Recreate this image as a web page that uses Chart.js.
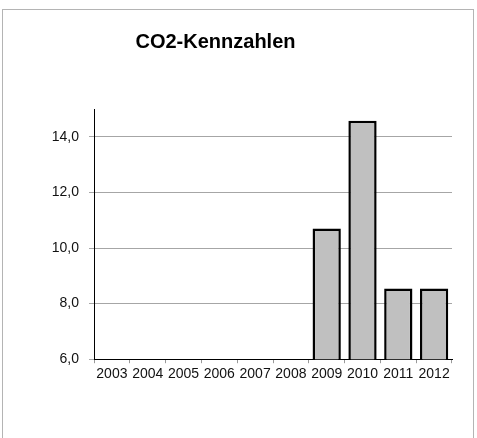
<!DOCTYPE html>
<html>
<head>
<meta charset="utf-8">
<script src="https://cdn.jsdelivr.net/npm/chart.js@4"></script>
<style>
    body { margin: 0; background: #fff; }
    #frame {
        position: absolute; left: 2px; top: 9px; width: 472px; height: 440px;
        border: 1px solid #b4b4b4; border-bottom: none; box-sizing: border-box;
    }
    #title {
        position: absolute; left: 0; top: 29px; width: 431px; text-align: center;
        font: bold 20px "Liberation Sans", Arial, sans-serif; line-height: 24px; color: #000;
    }
    #chart { position: absolute; left: 0; top: 0; }
</style>
</head>
<body>
<div id="frame"></div>
<canvas id="chart" width="477" height="438"></canvas>
<div id="title">CO2-Kennzahlen</div>
<script>
let years = ["2003", "2004", "2005", "2006", "2007", "2008", "2009", "2010", "2011", "2012"];
let co2Values = [null, null, null, null, null, null, 10.7, 14.58, 8.54, 8.54];
let yMin = 6;
let yMax = 15;
let yStep = 2;

let ctx = document.getElementById("chart").getContext("2d");

new Chart(ctx, {
    type: "bar",
    data: {
        labels: years,
        datasets: [{
            data: co2Values,
            backgroundColor: "#c0c0c0",
            borderColor: "#000000",
            borderWidth: 2.5,
            borderSkipped: false,
            barPercentage: 0.79,
            categoryPercentage: 1
        }]
    },
    options: {
        responsive: false,
        animation: false,
        layout: { padding: { left: 0, right: 25, top: 109, bottom: 52 } },
        plugins: {
            legend: { display: false },
            title: { display: false },
            tooltip: { enabled: false }
        },
        scales: {
            x: {
                grid: { drawOnChartArea: false, tickLength: 4, color: "#999999" },
                border: { color: "#000000", width: 1 },
                ticks: {
                    padding: 3,
                    color: "#111111",
                    maxRotation: 0,
                    font: { family: "'Liberation Sans', Arial", size: 14 }
                }
            },
            y: {
                min: yMin,
                max: yMax,
                afterFit: scale => { scale.width = 94; },
                grid: { color: "#a6a6a6", tickLength: 5 },
                border: { color: "#000000", width: 1 },
                ticks: {
                    stepSize: yStep,
                    includeBounds: false,
                    padding: 10,
                    color: "#111111",
                    font: { family: "'Liberation Sans', Arial", size: 14 },
                    callback: v => v.toFixed(1).replace(".", ",")
                }
            }
        }
    }
});
</script>
</body>
</html>
